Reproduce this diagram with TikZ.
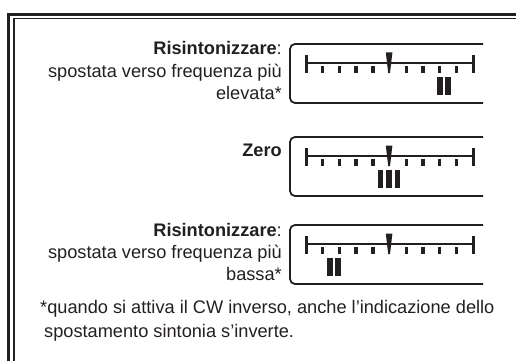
\documentclass[tikz,border=0pt]{standalone}
\usepackage{fontspec}
\setmainfont{Liberation Sans}
\usepackage{tikz}
\usepackage{xcolor}
\definecolor{Ink}{HTML}{231F20}
\tikzset{
    every node/.style={font=\fontsize{18.2}{22}\selectfont, text=Ink, inner sep=0pt},
    frameline/.style={draw=Ink, line width=#1},
    dialbox/.style={draw=Ink, line width=1.8pt, rounded corners=5pt},
    scaleline/.style={draw=Ink, line width=2.4pt},
    endcap/.style={draw=Ink, line width=3pt},
    tickmark/.style={draw=Ink, line width=3.4pt},
    pointer/.style={fill=Ink},
    shiftbar/.style={fill=Ink},
    dialtext/.style={anchor=base east, align=right},
}

\begin{document}
\begin{tikzpicture}[x=1pt, y=-1pt]
    \useasboundingbox (0,0) rectangle (516,361);

    % Outer frame
    \draw[frameline=3pt] (8.5,13) -- (8.5,361);
    \draw[frameline=3pt] (7,14.5) -- (516,14.5);
    \draw[frameline=1.2pt] (14,361) -- (14,18.5) -- (516,18.5);

    % Dials: top edge, shift of the bars, number of bars
    \foreach \ytop/\xoff/\nbar in {44/55/2, 137/0/3, 225/-55/2} {
        \pgfmathsetmacro{\ybot}{\ytop+59}
        \pgfmathsetmacro{\yline}{\ytop+19}
        \pgfmathsetmacro{\ycapa}{\ytop+11}
        \pgfmathsetmacro{\ycapb}{\ytop+29}
        \pgfmathsetmacro{\ytick}{\ytop+22}
        \pgfmathsetmacro{\ypin}{\ytop+8.5}
        \pgfmathsetmacro{\ybar}{\ytop+33}
        \draw[dialbox] (483,\ytop) -- (290,\ytop) -- (290,\ybot) -- (483,\ybot);
        \draw[scaleline] (306,\yline) -- (473,\yline);
        \draw[endcap] (306,\ycapa) -- (306,\ycapb);
        \draw[endcap] (473,\ycapa) -- (473,\ycapb);
        \foreach \k in {1,2,3,4,6,7,8,9}
            \draw[tickmark] ({306+16.7*\k},\ytick) -- ({306+16.7*\k},\ycapb);
        \fill[pointer] (385.8,\ypin) -- (392.4,\ypin) -- (390,\ycapb) -- (388.2,\ycapb) -- cycle;
        \foreach \b in {1,...,\nbar}
            \fill[shiftbar] ({389+\xoff+8.4*(\b-(\nbar+1)/2)-2.8},\ybar) rectangle ++(5.6,18);
    }

    % Labels
    \node[dialtext] (lblhigh) at (282,99) {\textbf{Risintonizzare}:\\spostata verso frequenza più\\elevata*};
    \node[dialtext] (lblzero) at (282,156) {\textbf{Zero}};
    \node[dialtext] (lbllow) at (282,280) {\textbf{Risintonizzare}:\\spostata verso frequenza più\\bassa*};

    % Footnote
    \node[anchor=base west, align=left, font=\fontsize{18.2}{24}\selectfont] (footnote) at (40,337)
        {*quando si attiva il CW inverso, anche l’indicazione dello\\\hspace*{4pt}spostamento sintonia s’inverte.};
\end{tikzpicture}
\end{document}
